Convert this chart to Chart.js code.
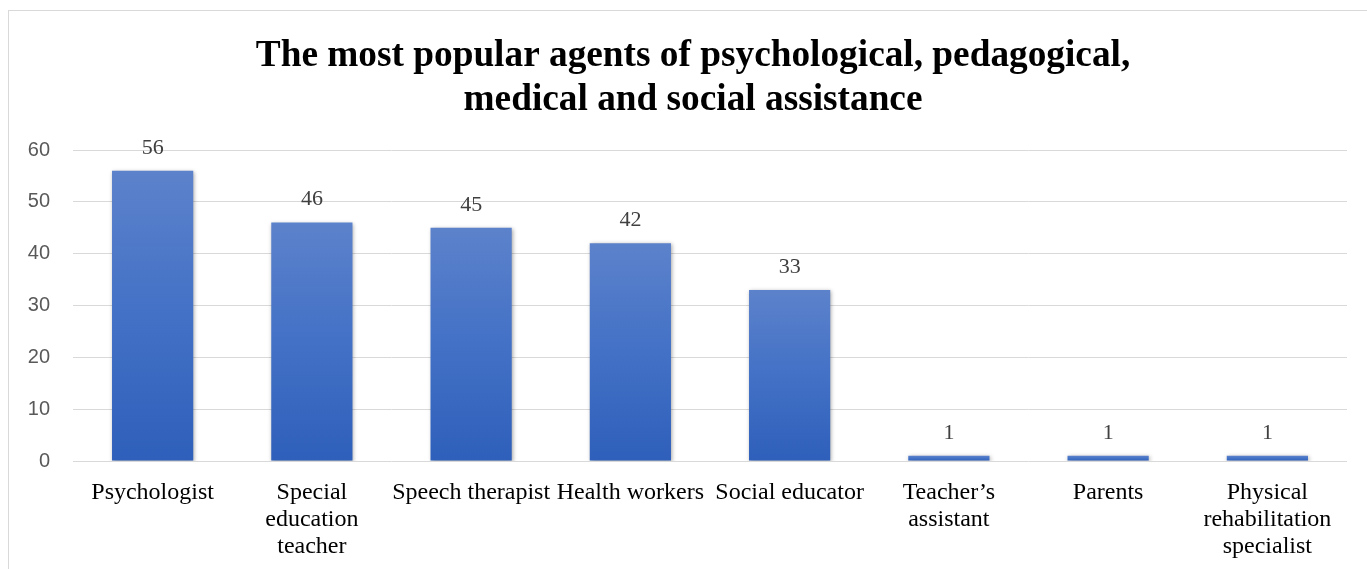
<!DOCTYPE html>
<html>
<head>
<meta charset="utf-8">
<script src="https://cdn.jsdelivr.net/npm/chart.js@4/dist/chart.umd.min.js"></script>
<style>
  body { margin: 0; background: #fff; overflow: hidden; }
  #box {
    position: absolute;
    left: 8px;
    top: 10px;
    width: 1358px;
    height: 570px;
    border: 1px solid #d9d9d9;
    background: #fff;
  }
</style>
</head>
<body>
<div id="box"><canvas id="chart"></canvas></div>
<script>
const titleLines = [
  "The most popular agents of psychological, pedagogical,",
  "medical and social assistance",
];
const categories = [
  "Psychologist",
  ["Special", "education", "teacher"],
  "Speech therapist",
  "Health workers",
  "Social educator",
  ["Teacher\u2019s", "assistant"],
  "Parents",
  ["Physical", "rehabilitation", "specialist"],
];
const counts = [56, 46, 45, 42, 33, 1, 1, 1];
const yTicks = { min: 0, max: 60, step: 10 };

const titleFont = {
  family: "'Liberation Serif', 'Times New Roman', serif",
  size: 37.3,
  weight: "bold",
  lineHeight: 1.18,
};

// gradient per bar, light on top, darker at the base
function barGradient(context) {
  const chart = context.chart;
  const y = chart.scales.y;
  if (!chart.chartArea || !y) return "#4472c4";
  const top = y.getPixelForValue(context.raw);
  const base = y.getPixelForValue(0);
  if (!isFinite(top) || !isFinite(base) || base - top < 1) return "#4472c4";
  const g = chart.ctx.createLinearGradient(0, top, 0, base);
  g.addColorStop(0, "#5c82cb");
  g.addColorStop(0.5, "#4371c6");
  g.addColorStop(1, "#2e5fba");
  return g;
}

const barShadow = {
  id: "barShadow",
  beforeDatasetsDraw(chart) {
    const ctx = chart.ctx;
    ctx.save();
    ctx.shadowColor = "rgba(0,0,0,0.35)";
    ctx.shadowBlur = 4;
    ctx.shadowOffsetX = 1;
    ctx.shadowOffsetY = 1;
  },
  afterDatasetsDraw(chart) {
    chart.ctx.restore();
  },
};

const valueLabels = {
  id: "valueLabels",
  afterDatasetsDraw(chart) {
    const ctx = chart.ctx;
    const meta = chart.getDatasetMeta(0);
    ctx.save();
    ctx.font = "22px 'Liberation Serif', 'Times New Roman', serif";
    ctx.fillStyle = "#404040";
    ctx.textAlign = "center";
    ctx.textBaseline = "middle";
    meta.data.forEach((bar, i) => {
      ctx.fillText(String(counts[i]), bar.x, bar.y - 23);
    });
    ctx.restore();
  },
};

// the built-in title only reserves the space (transparent), this draws it
// a bit left of the centre, like the original
const offsetTitle = {
  id: "offsetTitle",
  afterDraw(chart) {
    const block = chart.titleBlock;
    if (!block) return;
    const ctx = chart.ctx;
    const lh = titleFont.size * titleFont.lineHeight;
    const x = chart.width / 2 + 5;
    let y = block.top + 23 + lh / 2;
    ctx.save();
    ctx.font = "bold " + titleFont.size + "px " + titleFont.family;
    ctx.fillStyle = "#000";
    ctx.textAlign = "center";
    ctx.textBaseline = "middle";
    titleLines.forEach((line) => {
      ctx.fillText(line, x, y);
      y += lh;
    });
    ctx.restore();
  },
};

new Chart(document.getElementById("chart"), {
  type: "bar",
  data: {
    labels: categories,
    datasets: [
      {
        data: counts,
        backgroundColor: barGradient,
        borderWidth: 0,
        barPercentage: 0.51,
        categoryPercentage: 1,
      },
    ],
  },
  options: {
    responsive: true,
    maintainAspectRatio: false,
    animation: false,
    devicePixelRatio: 1,
    layout: {
      padding: { left: 0, right: 20, top: 0, bottom: 0 },
    },
    plugins: {
      legend: { display: false },
      tooltip: { enabled: false },
      title: {
        display: true,
        text: titleLines,
        color: "rgba(0,0,0,0)",
        font: titleFont,
        padding: { top: 23, bottom: 28 },
      },
    },
    scales: {
      x: {
        grid: { display: false, drawTicks: false },
        border: { display: false },
        ticks: {
          color: "#000",
          autoSkip: false,
          maxRotation: 0,
          padding: 18,
          font: {
            family: "'Liberation Serif', 'Times New Roman', serif",
            size: 24,
            lineHeight: 1.125,
          },
        },
        afterFit: (scale) => {
          scale.height = 120;
        },
      },
      y: {
        min: yTicks.min,
        max: yTicks.max,
        grid: { color: "#d9d9d9", lineWidth: 1, drawTicks: false },
        border: { display: false },
        ticks: {
          stepSize: yTicks.step,
          color: "#595959",
          padding: 23,
          font: {
            family: "'Liberation Sans', Arial, sans-serif",
            size: 20,
          },
        },
        afterFit: (scale) => {
          scale.width = 64;
        },
      },
    },
  },
  plugins: [barShadow, valueLabels, offsetTitle],
});
</script>
</body>
</html>
